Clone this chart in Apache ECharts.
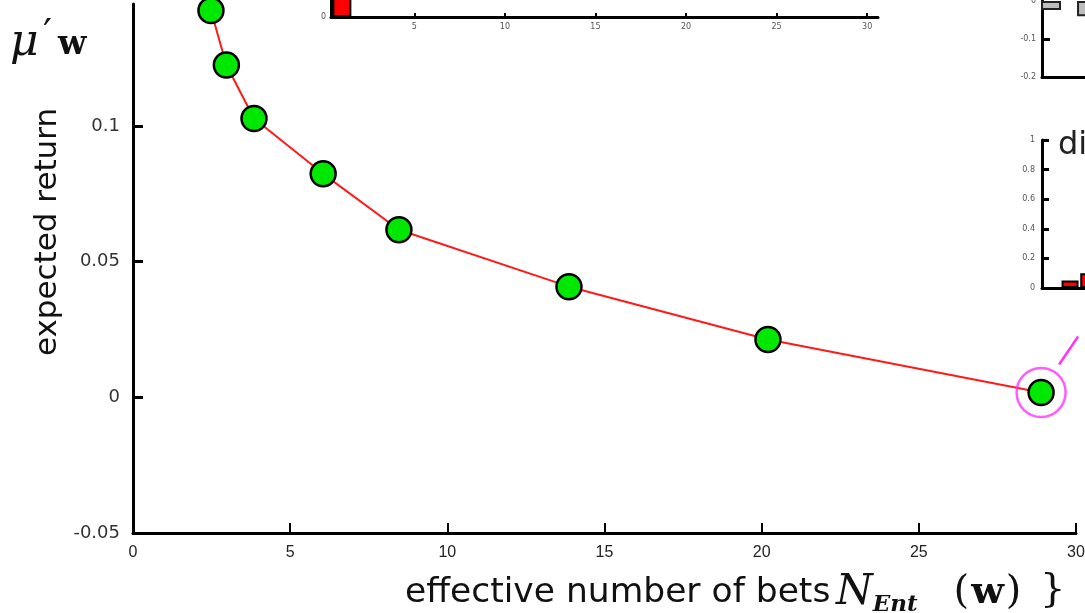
<!DOCTYPE html>
<html>
<head>
<meta charset="utf-8">
<script src="https://cdn.jsdelivr.net/npm/echarts@6.0.0/dist/echarts.min.js"></script>
<style>
  html, body { margin: 0; padding: 0; background: #fff; }
  #chart { width: 1085px; height: 613px; }
</style>
</head>
<body>
<div id="chart"></div>
<script>
// Efficient frontier: expected return against the effective number of bets
const betsN     = [2.48, 2.97, 3.85, 6.05, 8.46, 13.87, 20.2, 28.89];
const expReturn = [0.1426, 0.1225, 0.1028, 0.0824, 0.0618, 0.0408, 0.0213, 0.0018];
const xTicks = [0, 5, 10, 15, 20, 25, 30];
const yTicks = [-0.05, 0, 0.05, 0.1];

// Inset (top): allocation histogram
const histX = [1];
const histY = [0.5];
const histTicks = [5, 10, 15, 20, 25, 30];

// Inset (top right): portfolio weights
const wX = [1, 2];
const wY = [-0.024, -0.04];
const wTicks = [-0.2, -0.1, 0];

// Inset (right): diversification distribution
const dX = [1, 2];
const dY = [0.05, 0.1];
const dTicks = [0, 0.2, 0.4, 0.6, 0.8, 1];

const chart = echarts.init(document.getElementById('chart'), null, { renderer: 'canvas' });

const frontier = betsN.map((x, i) => [x, expReturn[i]]);
const highlighted = [frontier[frontier.length - 1]];

const smallLabel = { fontFamily: 'DejaVu Sans', fontSize: 8, color: '#555' };
const thickLine = { show: true, onZero: false, lineStyle: { color: '#000', width: 3 } };

const option = {
  animation: false,
  backgroundColor: '#fff',
  grid: [
    { left: 133, top: 4, right: 9, bottom: 80, outerBoundsMode: 'none' },           // main plot
    { left: 331, top: -100, width: 547, height: 117, outerBoundsMode: 'none' },     // top inset
    { left: 1042, top: 1, width: 200, height: 76, outerBoundsMode: 'none' },        // top-right inset
    { left: 1042, top: 140, width: 200, height: 148, outerBoundsMode: 'none' }      // right inset
  ],
  xAxis: [
    {
      gridIndex: 0, type: 'value', min: 0, max: 30, interval: 5,
      axisLine: { show: true, onZero: false, lineStyle: { color: '#000', width: 3 } },
      axisTick: { show: true, inside: true, length: 10, lineStyle: { color: '#000', width: 2 } },
      axisLabel: { margin: 12, fontFamily: 'Liberation Sans', fontSize: 16, color: '#222', customValues: xTicks },
      splitLine: { show: false }
    },
    {
      gridIndex: 1, type: 'value', min: 0.4, max: 30.6,
      axisLine: thickLine,
      axisTick: { show: true, inside: true, length: 4, lineStyle: { color: '#000', width: 2 }, customValues: histTicks },
      axisLabel: Object.assign({ margin: 6, customValues: histTicks }, smallLabel),
      splitLine: { show: false }
    },
    {
      gridIndex: 2, type: 'value', min: 0.75, max: 6.3,
      axisLine: thickLine, axisTick: { show: false }, axisLabel: { show: false }, splitLine: { show: false }
    },
    {
      gridIndex: 3, type: 'value', min: -0.5, max: 10.2,
      axisLine: thickLine, axisTick: { show: false }, axisLabel: { show: false }, splitLine: { show: false }
    }
  ],
  yAxis: [
    {
      gridIndex: 0, type: 'value', min: -0.05, max: 0.145, interval: 0.05,
      axisLine: { show: true, onZero: false, lineStyle: { color: '#000', width: 3 } },
      axisTick: { show: true, inside: true, length: 10, lineStyle: { color: '#000', width: 3 }, customValues: yTicks },
      axisLabel: { margin: 13, fontFamily: 'DejaVu Sans', fontSize: 18, color: '#333', customValues: yTicks },
      splitLine: { show: false }
    },
    {
      gridIndex: 1, type: 'value', min: 0, max: 1,
      axisLine: thickLine,
      axisTick: { show: false },
      axisLabel: Object.assign({ margin: 5, customValues: [0] }, smallLabel),
      splitLine: { show: false }
    },
    {
      gridIndex: 2, type: 'value', min: -0.2, max: 0,
      axisLine: thickLine,
      axisTick: { show: true, inside: true, length: 8, lineStyle: { color: '#000', width: 3 }, customValues: [-0.1] },
      axisLabel: Object.assign({ margin: 6, customValues: wTicks }, smallLabel),
      splitLine: { show: false }
    },
    {
      gridIndex: 3, type: 'value', min: 0, max: 1, interval: 0.2,
      axisLine: thickLine,
      axisTick: { show: true, inside: true, length: 7, lineStyle: { color: '#000', width: 3 } },
      axisLabel: Object.assign({ margin: 7 }, smallLabel),
      splitLine: { show: false }
    }
  ],
  series: [
    {
      type: 'line', xAxisIndex: 0, yAxisIndex: 0, data: frontier,
      symbol: 'circle', symbolSize: 25,
      lineStyle: { color: '#ff1a1a', width: 2 },
      itemStyle: { color: '#00e800', borderColor: '#000', borderWidth: 2.5 },
      z: 3
    },
    {
      type: 'scatter', xAxisIndex: 0, yAxisIndex: 0, data: highlighted,
      symbol: 'circle', symbolSize: 49,
      itemStyle: { color: 'rgba(0,0,0,0)', borderColor: '#ff33ff', borderWidth: 2.5 },
      z: 4
    },
    {
      type: 'bar', xAxisIndex: 1, yAxisIndex: 1, data: histX.map((x, i) => [x, histY[i]]),
      barWidth: 19, itemStyle: { color: '#ff0000', borderColor: '#000', borderWidth: 2 }
    },
    {
      type: 'bar', xAxisIndex: 2, yAxisIndex: 2, data: wX.map((x, i) => [x, wY[i]]),
      barWidth: 20, itemStyle: { color: '#bdbdbd', borderColor: '#222', borderWidth: 2 }
    },
    {
      type: 'bar', xAxisIndex: 3, yAxisIndex: 3, data: dX.map((x, i) => [x, dY[i]]),
      barWidth: 17, itemStyle: { color: '#ff0000', borderColor: '#000', borderWidth: 2 }
    }
  ],
  graphic: [
    {
      id: 'mu', type: 'text', x: 10, y: 44,
      style: { text: 'μ', fontFamily: 'DejaVu Serif', fontStyle: 'italic', fontSize: 44, fill: '#111', verticalAlign: 'middle' }
    },
    {
      id: 'prime', type: 'text', x: 43, y: 37,
      style: { text: '′', fontFamily: 'DejaVu Serif', fontSize: 40, fill: '#111', verticalAlign: 'middle' }
    },
    {
      id: 'wvec', type: 'text', x: 58, y: 45,
      style: { text: 'w', fontFamily: 'DejaVu Serif', fontWeight: 'bold', fontSize: 33, fill: '#111', verticalAlign: 'middle' }
    },
    {
      id: 'ytitle', type: 'text', x: 48, y: 232, rotation: Math.PI / 2,
      style: {
        text: 'expected return', fontFamily: 'DejaVu Sans', fontSize: 31, fill: '#111',
        align: 'center', verticalAlign: 'middle'
      }
    },
    {
      id: 'xtitle', type: 'text', left: 405, top: 572,
      style: {
        text: '{t|effective number of bets}{sp| }{n|N}{s|Ent}{p|(}{w|w}{p|)}',
        fontFamily: 'DejaVu Serif', fontSize: 36, fill: '#111',
        rich: {
          t: { fontFamily: 'DejaVu Sans', fontSize: 34.5, color: '#111', lineHeight: 48, verticalAlign: 'middle' },
          sp: { fontSize: 20, lineHeight: 48 },
          n: { fontFamily: 'DejaVu Serif', fontStyle: 'italic', fontSize: 42, color: '#111', lineHeight: 48, verticalAlign: 'middle' },
          s: { fontFamily: 'DejaVu Serif', fontStyle: 'italic', fontWeight: 'bold', fontSize: 23, color: '#111', lineHeight: 24, verticalAlign: 'bottom', padding: [0, 34, 0, 0] },
          p: { fontFamily: 'DejaVu Serif', fontSize: 40, color: '#111', lineHeight: 48, verticalAlign: 'middle', padding: [0, 2, 0, 2] },
          w: { fontFamily: 'DejaVu Serif', fontWeight: 'bold', fontSize: 38, color: '#111', lineHeight: 48, verticalAlign: 'middle' }
        }
      }
    },
    {
      id: 'xtitleBrace', type: 'text', x: 1040, y: 591,
      style: { text: '}', fontFamily: 'DejaVu Serif', fontSize: 40, fill: '#111', verticalAlign: 'middle' }
    },
    {
      id: 'insetTitle', type: 'text', left: 1058, top: 130,
      style: { text: 'diversification', fontFamily: 'DejaVu Sans', fontSize: 32, fill: '#222' }
    }
  ]
};

chart.setOption(option);

// connector from the highlighted portfolio towards its detail inset
const p = chart.convertToPixel({ gridIndex: 0 }, highlighted[0]);
chart.setOption({
  graphic: [
    {
      id: 'connector', type: 'line', z: 10,
      shape: { x1: p[0] + 18, y1: p[1] - 28, x2: p[0] + 37, y2: p[1] - 56 },
      style: { stroke: '#ff33ff', lineWidth: 2.5 }
    }
  ]
});
</script>
</body>
</html>
